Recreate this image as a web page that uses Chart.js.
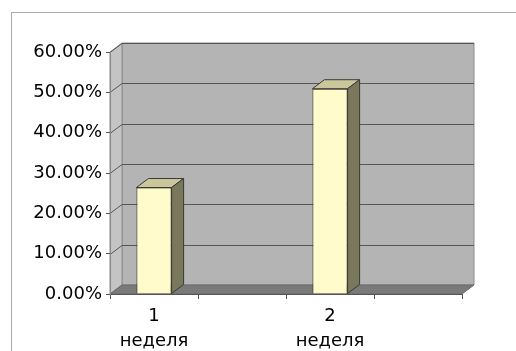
<!DOCTYPE html>
<html>
<head>
<meta charset="utf-8">
<script src="https://cdn.jsdelivr.net/npm/chart.js@4"></script>
<style>
  html, body { margin: 0; padding: 0; background: #fff; }
  canvas { display: block; }
</style>
</head>
<body>
<canvas id="weekChart" width="516" height="351"></canvas>
<script>
// Weekly share, percent
const weeks = [["1", "неделя"], "", ["2", "неделя"], ""];
const shares = [26.4, null, 50.9, null];
const yTicks = [0, 10, 20, 30, 40, 50, 60];

// Depth of the fake 3D box (back wall offset from the front plane)
const DEPTH_X = 12;
const DEPTH_Y = -9;

const poly = (ctx, pts, fill, stroke) => {
  ctx.beginPath();
  ctx.moveTo(pts[0][0], pts[0][1]);
  pts.slice(1).forEach((p) => ctx.lineTo(p[0], p[1]));
  ctx.closePath();
  if (fill) {
    ctx.fillStyle = fill;
    ctx.fill();
  }
  if (stroke) {
    ctx.strokeStyle = stroke;
    ctx.lineWidth = 1;
    ctx.stroke();
  }
};

// Walls, floor and outer frame go under everything else
const box3d = {
  id: "box3d",
  beforeDraw(chart) {
    const { ctx, chartArea: a, scales } = chart;
    const y = scales.y;
    const L = a.left, R = a.right, T = a.top, B = a.bottom;
    const dx = DEPTH_X, dy = DEPTH_Y;

    ctx.save();
    ctx.fillStyle = "#fff";
    ctx.fillRect(0, 0, chart.width, chart.height);

    // outer frame
    ctx.strokeStyle = "#a8a8a8";
    ctx.lineWidth = 1;
    ctx.strokeRect(11.5, 12.5, chart.width, chart.height);

    // back wall
    poly(ctx, [[L + dx, T + dy], [R + dx, T + dy], [R + dx, B + dy], [L + dx, B + dy]], "#b4b4b4", "#8c8c8c");
    // left wall
    poly(ctx, [[L, T], [L + dx, T + dy], [L + dx, B + dy], [L, B]], "#c4c4c4", "#8c8c8c");

    // gridlines on back wall and left wall
    ctx.strokeStyle = "#555";
    ctx.lineWidth = 1;
    yTicks.forEach((v) => {
      const py = Math.round(y.getPixelForValue(v)) + 0.5;
      ctx.beginPath();
      ctx.moveTo(L, py);
      ctx.lineTo(L + dx, py + dy);
      if (v > 0) ctx.lineTo(R + dx, py + dy);
      ctx.stroke();
    });

    // floor
    poly(ctx, [[L, B], [L + dx, B + dy], [R + dx, B + dy], [R, B]], "#7a7a7a", "#6a6a6a");
    ctx.restore();
  },
  afterDatasetsDraw(chart) {
    const { ctx } = chart;
    const dx = DEPTH_X, dy = DEPTH_Y;
    ctx.save();
    chart.getDatasetMeta(0).data.forEach((bar, i) => {
      if (shares[i] == null) return;
      const { x, y, width, base } = bar.getProps(["x", "y", "width", "base"], true);
      const l = x - width / 2, r = x + width / 2;
      // top face
      poly(ctx, [[l, y], [l + dx, y + dy], [r + dx, y + dy], [r, y]], "#cbc79c", "#3a3a30");
      // right side
      poly(ctx, [[r, y], [r + dx, y + dy], [r + dx, base + dy], [r, base]], "#79785c", "#3a3a30");
    });
    ctx.restore();
  },
};

const tickFont = { family: "'DejaVu Sans', sans-serif", size: 18 };

new Chart(document.getElementById("weekChart"), {
  type: "bar",
  data: {
    labels: weeks,
    datasets: [
      {
        data: shares,
        backgroundColor: "#fffbcb",
        borderColor: "#3a3a30",
        borderWidth: 1,
        categoryPercentage: 1,
        barPercentage: 0.4,
      },
    ],
  },
  options: {
    responsive: false,
    animation: false,
    events: [],
    layout: { padding: { top: 52, right: 54, bottom: 0, left: 0 } },
    plugins: {
      legend: { display: false },
      tooltip: { enabled: false },
    },
    scales: {
      x: {
        grid: { drawOnChartArea: false, tickLength: 5, color: "#555" },
        border: { color: "#555" },
        ticks: { color: "#000", font: { ...tickFont, lineHeight: 1.4 }, padding: 5, maxRotation: 0, autoSkip: false },
        afterFit: (scale) => {
          scale.height = 57;
        },
      },
      y: {
        min: 0,
        max: 60,
        afterBuildTicks: (scale) => {
          scale.ticks = yTicks.map((v) => ({ value: v }));
        },
        grid: { drawOnChartArea: false, tickLength: 4, color: "#555" },
        border: { color: "#888" },
        ticks: {
          color: "#000",
          font: tickFont,
          padding: 4,
          callback: (v) => v.toFixed(2) + "%",
        },
        afterFit: (scale) => {
          scale.width = 110;
        },
      },
    },
  },
  plugins: [box3d],
});
</script>
</body>
</html>
